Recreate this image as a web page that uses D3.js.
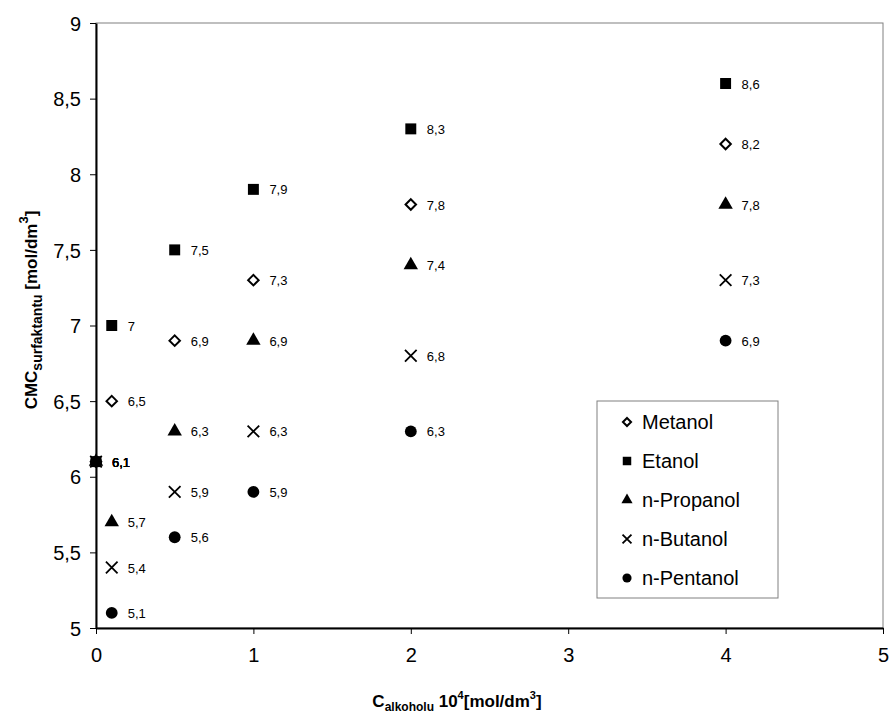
<!DOCTYPE html>
<html>
<head>
<meta charset="utf-8">
<script src="https://cdn.jsdelivr.net/npm/d3@7"></script>
<style>
  body { margin: 0; background: #fff; }
  text { font-family: Arial, "Liberation Sans", sans-serif; fill: #000; }
  .axis text { font-size: 20px; }
  .axis path, .axis line { stroke: #000; }
  .pointLabel { font-size: 13px; }
  .title { font-size: 17px; font-weight: bold; }
  .legend text { font-size: 20px; }
</style>
</head>
<body>
<svg id="chart" width="893" height="718"></svg>
<script>
// concentrations of alcohol (x 10^4 mol/dm3)
var concentrations = [0, 0.1, 0.5, 1, 2, 4];
var seriesNames = ["Metanol", "Etanol", "n-Propanol", "n-Butanol", "n-Pentanol"];
var metanol   = [6.1, 6.5, 6.9, 7.3, 7.8, 8.2];
var etanol    = [6.1, 7.0, 7.5, 7.9, 8.3, 8.6];
var propanol  = [6.1, 5.7, 6.3, 6.9, 7.4, 7.8];
var butanol   = [6.1, 5.4, 5.9, 6.3, 6.8, 7.3];
var pentanol  = [6.1, 5.1, 5.6, 5.9, 6.3, 6.9];
var xTicks = [0, 1, 2, 3, 4, 5];
var yTicks = [5, 5.5, 6, 6.5, 7, 7.5, 8, 8.5, 9];

var svg = d3.select("#chart");

var plot = { left: 96, top: 23, right: 883, bottom: 628 };

var x = d3.scaleLinear().domain([0, 5]).range([plot.left, plot.right]);
var y = d3.scaleLinear().domain([5, 9]).range([plot.bottom, plot.top]);

var fmt = function(v) { return String(v).replace(".", ","); };

// plot area border (thin gray on top/right)
svg.append("rect")
  .attr("x", plot.left).attr("y", plot.top)
  .attr("width", plot.right - plot.left).attr("height", plot.bottom - plot.top)
  .attr("fill", "none").attr("stroke", "#808080").attr("stroke-width", 1);

var gx = svg.append("g").attr("class", "axis")
  .attr("transform", "translate(0," + plot.bottom + ")")
  .call(d3.axisBottom(x).tickValues(xTicks).tickSize(6).tickSizeOuter(0).tickPadding(14).tickFormat(fmt));
gx.select(".domain").attr("stroke-width", 2);

var gy = svg.append("g").attr("class", "axis")
  .attr("transform", "translate(" + plot.left + ",0)")
  .call(d3.axisLeft(y).tickValues(yTicks).tickSize(6).tickSizeOuter(0).tickPadding(9).tickFormat(fmt));
gy.select(".domain").attr("stroke-width", 2);
gy.selectAll(".tick text").attr("dy", "0.36em");

// markers
var symbols = {
  "Metanol":    { shape: d3.symbolDiamond2, size: 70, fill: "#fff", stroke: "#000", sw: 2 },
  "Etanol":     { shape: d3.symbolSquare, size: 120, fill: "#000", stroke: "none", sw: 0 },
  "n-Propanol": { shape: d3.symbolTriangle, size: 90, fill: "#000", stroke: "none", sw: 0 },
  "n-Butanol":  { shape: d3.symbolTimes, size: 90, fill: "none", stroke: "#000", sw: 1.8 },
  "n-Pentanol": { shape: d3.symbolCircle, size: 110, fill: "#000", stroke: "none", sw: 0 }
};

var allValues = [metanol, etanol, propanol, butanol, pentanol];
var series = seriesNames.map(function(name, i) {
  return {
    name: name,
    points: concentrations.map(function(c, j) { return { x: c, y: allValues[i][j] }; })
  };
});

function drawSymbol(sel, name) {
  var s = symbols[name];
  sel.attr("d", d3.symbol().type(s.shape).size(s.size)())
    .attr("fill", s.fill)
    .attr("stroke", s.stroke)
    .attr("stroke-width", s.sw);
}

var groups = svg.selectAll("g.series")
  .data(series)
  .enter()
  .append("g")
  .attr("class", "series");

groups.each(function(d) {
  var g = d3.select(this);
  g.selectAll("path")
    .data(d.points)
    .enter()
    .append("path")
    .attr("transform", function(p) { return "translate(" + x(p.x) + "," + y(p.y) + ")"; })
    .call(drawSymbol, d.name);

  g.selectAll("text")
    .data(d.points)
    .enter()
    .append("text")
    .attr("class", "pointLabel")
    .attr("x", function(p) { return x(p.x) + 16; })
    .attr("y", function(p) { return y(p.y) + 5; })
    .text(function(p) { return fmt(p.y); });
});

// the overlapping x=0 point shows the square and cross on top
groups.filter(function(d) { return d.name === "n-Butanol"; }).raise();
groups.filter(function(d) { return d.name === "Etanol"; }).raise();

// legend
var legend = svg.append("g").attr("class", "legend");
legend.append("rect")
  .attr("x", 597).attr("y", 401).attr("width", 181).attr("height", 197)
  .attr("fill", "#fff").attr("stroke", "#808080").attr("stroke-width", 1);

var items = legend.selectAll("g.item")
  .data(seriesNames)
  .enter()
  .append("g")
  .attr("class", "item")
  .attr("transform", function(d, i) { return "translate(0," + (421 + i * 39) + ")"; });

items.append("path")
  .attr("transform", "translate(627,1)")
  .each(function(d) {
    var s = symbols[d];
    d3.select(this)
      .attr("d", d3.symbol().type(s.shape).size(s.size * 0.6)())
      .attr("fill", s.fill).attr("stroke", s.stroke).attr("stroke-width", s.sw);
  });

items.append("text")
  .attr("x", 642)
  .attr("y", 8)
  .text(function(d) { return d; });

// axis titles
var xt = svg.append("text").attr("class", "title")
  .attr("x", 457).attr("y", 707).attr("text-anchor", "middle");
xt.append("tspan").text("C");
xt.append("tspan").attr("font-size", "12px").attr("dy", 4).text("alkoholu");
xt.append("tspan").attr("dy", -4).text(" 10");
xt.append("tspan").attr("font-size", "11px").attr("dy", -8).text("4");
xt.append("tspan").attr("dy", 8).text("[mol/dm");
xt.append("tspan").attr("font-size", "11px").attr("dy", -8).text("3");
xt.append("tspan").attr("dy", 8).text("]");

var yt = svg.append("text").attr("class", "title")
  .attr("font-size", "20px")
  .attr("transform", "translate(37,310) rotate(-90)")
  .attr("text-anchor", "middle");
yt.append("tspan").text("CMC");
yt.append("tspan").attr("font-size", "14px").attr("dy", 5).text("surfaktantu");
yt.append("tspan").attr("dy", -5).text(" [mol/dm");
yt.append("tspan").attr("font-size", "13px").attr("dy", -9).text("3");
yt.append("tspan").attr("dy", 9).text("]");
</script>
</body>
</html>
